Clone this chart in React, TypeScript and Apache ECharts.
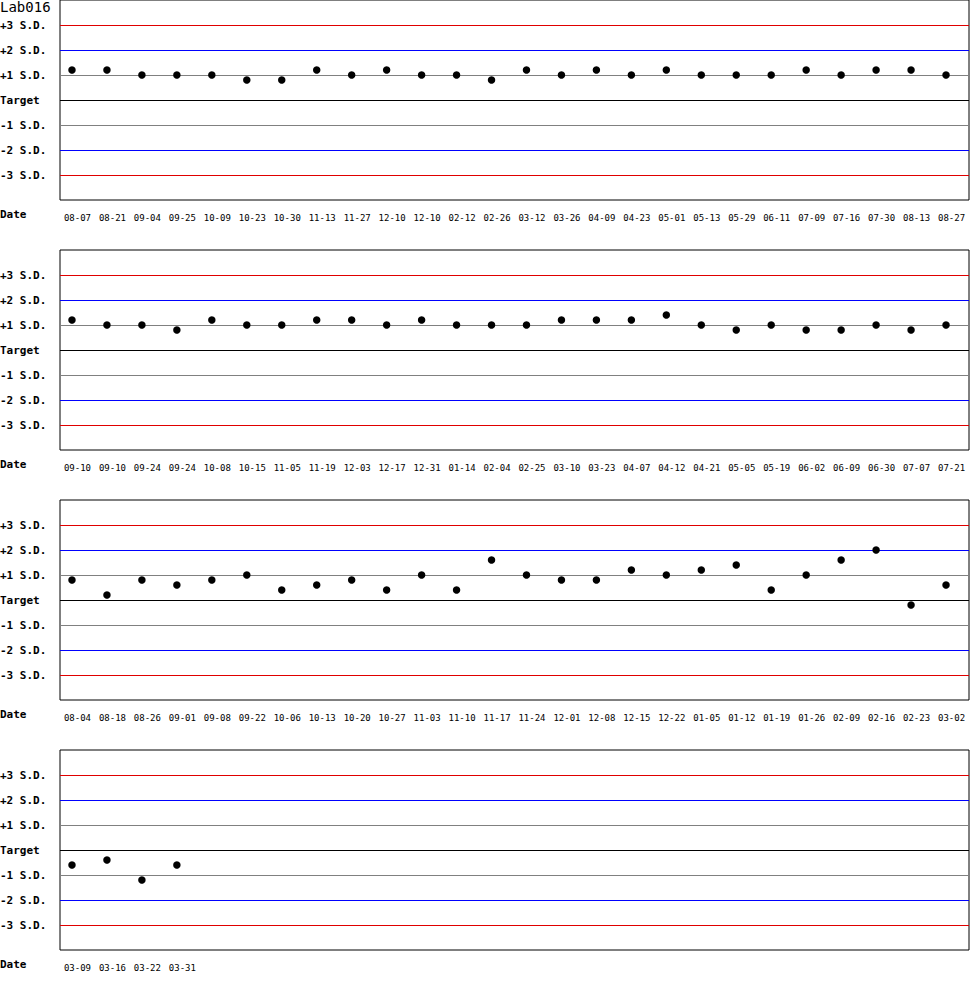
import React, { useEffect, useRef } from "react";
import * as echarts from "echarts";

// dates shown under each panel
const dates1 = ["08-07", "08-21", "09-04", "09-25", "10-09", "10-23", "10-30", "11-13", "11-27", "12-10", "12-10", "02-12", "02-26", "03-12", "03-26", "04-09", "04-23", "05-01", "05-13", "05-29", "06-11", "07-09", "07-16", "07-30", "08-13", "08-27"];
const dates2 = ["09-10", "09-10", "09-24", "09-24", "10-08", "10-15", "11-05", "11-19", "12-03", "12-17", "12-31", "01-14", "02-04", "02-25", "03-10", "03-23", "04-07", "04-12", "04-21", "05-05", "05-19", "06-02", "06-09", "06-30", "07-07", "07-21"];
const dates3 = ["08-04", "08-18", "08-26", "09-01", "09-08", "09-22", "10-06", "10-13", "10-20", "10-27", "11-03", "11-10", "11-17", "11-24", "12-01", "12-08", "12-15", "12-22", "01-05", "01-12", "01-19", "01-26", "02-09", "02-16", "02-23", "03-02"];
const dates4 = ["03-09", "03-16", "03-22", "03-31"];

// results in S.D. from target
const sd1 = [1.2, 1.2, 1.0, 1.0, 1.0, 0.8, 0.8, 1.2, 1.0, 1.2, 1.0, 1.0, 0.8, 1.2, 1.0, 1.2, 1.0, 1.2, 1.0, 1.0, 1.0, 1.2, 1.0, 1.2, 1.2, 1.0];
const sd2 = [1.2, 1.0, 1.0, 0.8, 1.2, 1.0, 1.0, 1.2, 1.2, 1.0, 1.2, 1.0, 1.0, 1.0, 1.2, 1.2, 1.2, 1.4, 1.0, 0.8, 1.0, 0.8, 0.8, 1.0, 0.8, 1.0];
const sd3 = [0.8, 0.2, 0.8, 0.6, 0.8, 1.0, 0.4, 0.6, 0.8, 0.4, 1.0, 0.4, 1.6, 1.0, 0.8, 0.8, 1.2, 1.0, 1.2, 1.4, 0.4, 1.0, 1.6, 2.0, -0.2, 0.6];
const sd4 = [-0.6, -0.4, -1.2, -0.6];

const panels = [
  { dates: dates1, values: sd1 },
  { dates: dates2, values: sd2 },
  { dates: dates3, values: sd3 },
  { dates: dates4, values: sd4 },
];

// reference lines and their colours
const limits = [
  { v: 3, color: "#e00000" },
  { v: 2, color: "#0000ff" },
  { v: 1, color: "#808080" },
  { v: 0, color: "#000000" },
  { v: -1, color: "#808080" },
  { v: -2, color: "#0000ff" },
  { v: -3, color: "#e00000" },
];

const slots = 26;
const title = "Lab016";

const yLabel = (v: number) => {
  if (v === 0) return "Target";
  if (Math.abs(v) > 3) return "";
  return (v > 0 ? "+" : "-") + Math.abs(v) + " S.D.";
};

export default function App() {
  const ref = useRef<HTMLDivElement>(null);

  useEffect(() => {
    const chart = echarts.init(ref.current, null, { renderer: "svg" });

    const grids = panels.map((_, i) => ({
      left: 60,
      right: 1,
      top: i * 250,
      height: 200,
      containLabel: false,
      outerBoundsMode: "none",
      show: true,
      borderColor: "#000",
      borderWidth: 1,
    }));

    const xAxes = panels.map((p, i) => {
      const cats = [...p.dates];
      while (cats.length < slots) cats.push("");
      return {
        type: "category",
        gridIndex: i,
        data: cats,
        boundaryGap: true,
        axisLine: { show: false },
        axisTick: { show: false },
        splitLine: { show: false },
        axisLabel: {
          interval: 0,
          margin: 13,
          color: "#000",
          fontFamily: "DejaVu Sans Mono",
          fontSize: 9,
        },
      };
    });

    const yAxes = panels.map((_, i) => ({
      type: "value",
      gridIndex: i,
      min: -4,
      max: 4,
      interval: 1,
      axisLine: { show: false },
      axisTick: { show: false },
      splitLine: { show: false },
      axisLabel: {
        formatter: yLabel,
        align: "left",
        margin: 60,
        color: "#000",
        fontFamily: "DejaVu Sans Mono",
        fontWeight: "bold",
        fontSize: 11,
      },
    }));

    const series = panels.map((p, i) => ({
      type: "scatter",
      xAxisIndex: i,
      yAxisIndex: i,
      data: p.values.map((v, j) => [j, v]),
      symbol: "circle",
      symbolSize: 7.5,
      symbolOffset: [-5.5, 0],
      itemStyle: { color: "#000", opacity: 1 },
      z: 5,
      markLine: {
        silent: true,
        symbol: "none",
        label: { show: false },
        z: 1,
        data: limits.map((l) => ({
          yAxis: l.v,
          lineStyle: { color: l.color, width: 1, type: "solid", opacity: 1 },
        })),
      },
    }));

    const graphic = [
      {
        type: "text",
        left: 0,
        top: 0,
        style: { text: title, font: "14px 'DejaVu Sans Mono'", fill: "#000" },
      },
      ...panels.map((_, i) => ({
        type: "text",
        left: 0,
        top: 209 + i * 250,
        style: { text: "Date", font: "bold 11px 'DejaVu Sans Mono'", fill: "#000" },
      })),
    ];

    chart.setOption({
      animation: false,
      backgroundColor: "#fff",
      grid: grids,
      xAxis: xAxes,
      yAxis: yAxes,
      series,
      graphic,
    });

    return () => chart.dispose();
  }, []);

  return (
    <div
      ref={ref}
      style={{ position: "absolute", left: 0, top: 0, width: 970, height: 1000 }}
    />
  );
}
